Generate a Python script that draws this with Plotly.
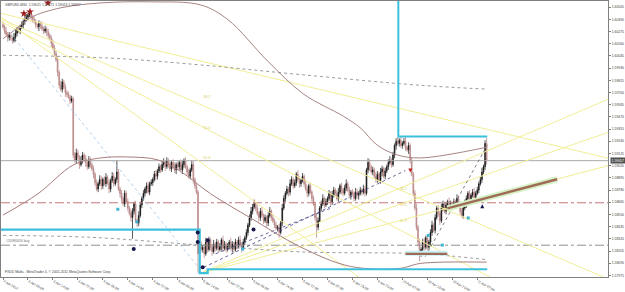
import plotly.graph_objects as go

# ---------------- data ----------------
tick_bars = [0, 16, 32, 48, 64, 80, 96, 112, 128, 144, 160, 176, 192, 208, 224, 240, 256, 272, 288, 304]
tick_text = ["2 Apr 2012", "3 Apr 06:00", "3 Apr 14:00", "3 Apr 22:00", "4 Apr 06:00", "4 Apr 14:00",
             "4 Apr 22:00", "5 Apr 06:00", "5 Apr 14:00", "5 Apr 22:00", "6 Apr 06:00", "6 Apr 14:00",
             "6 Apr 22:00", "9 Apr 07:00", "9 Apr 15:00", "9 Apr 23:00", "10 Apr 07:00", "10 Apr 15:00",
             "10 Apr 23:00", "11 Apr 07:00"]
price_ticks = [1.57975, 1.58090, 1.58205, 1.58320, 1.58435, 1.58550, 1.58665, 1.58780, 1.58895, 1.59010,
               1.59125, 1.59240, 1.59355, 1.59470, 1.59585, 1.59700, 1.59815, 1.59930, 1.60045, 1.60160,
               1.60275, 1.60390, 1.60505]

first_open = 1.6034
closes = [
    1.6032, 1.6028, 1.6025, 1.6022, 1.6024, 1.6021, 1.6019, 1.6022, 1.6026, 1.6030, 1.6028, 1.6032, 1.6034, 1.6037, 1.6039, 1.6041,
    1.6043, 1.6044, 1.6041, 1.6039, 1.6037, 1.6034, 1.6032, 1.6035, 1.6033, 1.6030, 1.6028, 1.6030, 1.6027, 1.6024, 1.6021, 1.6016,
    1.6012, 1.6007, 1.6001, 1.5989, 1.5977, 1.5973, 1.5980, 1.5975, 1.5970, 1.5968, 1.5966, 1.5962, 1.5964, 1.5911, 1.5906, 1.5913,
    1.5909, 1.5902, 1.5906, 1.5911, 1.5908, 1.5904, 1.5900, 1.5906, 1.5902, 1.5898, 1.5893, 1.5885, 1.5879, 1.5884, 1.5888, 1.5882,
    1.5888, 1.5884, 1.5890, 1.5885, 1.5879, 1.5887, 1.5891, 1.5884, 1.5888, 1.5895, 1.5879, 1.5875, 1.5870, 1.5865, 1.5875, 1.5867,
    1.5861, 1.5856, 1.5852, 1.5858, 1.5865, 1.5849, 1.5847, 1.5854, 1.5864, 1.5870, 1.5875, 1.5879, 1.5882, 1.5876, 1.5884, 1.5885,
    1.5888, 1.5893, 1.5891, 1.5896, 1.5900, 1.5897, 1.5902, 1.5904, 1.5900, 1.5906, 1.5902, 1.5898, 1.5904, 1.5900, 1.5897, 1.5902,
    1.5900, 1.5904, 1.5897, 1.5902, 1.5906, 1.5900, 1.5895, 1.5891, 1.5897, 1.5902, 1.5888, 1.5882, 1.5876, 1.5818, 1.5827, 1.5822,
    1.5824, 1.5818, 1.5829, 1.5822, 1.5831, 1.5824, 1.5820, 1.5827, 1.5823, 1.5829, 1.5822, 1.5825, 1.5831, 1.5823, 1.5827, 1.5822,
    1.5825, 1.5829, 1.5823, 1.5827, 1.5822, 1.5829, 1.5825, 1.5831, 1.5827, 1.5823, 1.5829, 1.5833, 1.5838, 1.5845, 1.5852, 1.5858,
    1.5862, 1.5865, 1.5861, 1.5856, 1.5852, 1.5858, 1.5854, 1.5849, 1.5852, 1.5847, 1.5854, 1.5858, 1.5852, 1.5849, 1.5845, 1.5842,
    1.5843, 1.5838, 1.5847, 1.5861, 1.5870, 1.5875, 1.5879, 1.5876, 1.5884, 1.5888, 1.5882, 1.5885, 1.5893, 1.5888, 1.5884, 1.5887,
    1.5891, 1.5884, 1.5879, 1.5875, 1.5882, 1.5876, 1.5870, 1.5865, 1.5852, 1.5843, 1.5849, 1.5861, 1.5865, 1.5870, 1.5864, 1.5867,
    1.5870, 1.5875, 1.5867, 1.5873, 1.5878, 1.5875, 1.5870, 1.5876, 1.5882, 1.5878, 1.5875, 1.5880, 1.5884, 1.5878, 1.5873, 1.5876,
    1.5875, 1.5870, 1.5876, 1.5873, 1.5875, 1.5878, 1.5876, 1.5879, 1.5875, 1.5897, 1.5904, 1.5900, 1.5895, 1.5897, 1.5891, 1.5888,
    1.5893, 1.5887, 1.5895, 1.5898, 1.5891, 1.5896, 1.5900, 1.5904, 1.5906, 1.5902, 1.5911, 1.5920, 1.5924, 1.5922, 1.5925, 1.5920,
    1.5922, 1.5924, 1.5918, 1.5916, 1.5920, 1.5906, 1.5893, 1.5875, 1.5861, 1.5843, 1.5829, 1.5818, 1.5822, 1.5829, 1.5824, 1.5833,
    1.5824, 1.5829, 1.5838, 1.5845, 1.5840, 1.5852, 1.5861, 1.5856, 1.5849, 1.5861, 1.5865, 1.5858, 1.5864, 1.5867, 1.5861, 1.5865,
    1.5862, 1.5867, 1.5864, 1.5870, 1.5865, 1.5858, 1.5854, 1.5861, 1.5865, 1.5870, 1.5875, 1.5867, 1.5873, 1.5876, 1.5871, 1.5875,
    1.5878, 1.5884, 1.5888, 1.5895, 1.5900, 1.5922, 1.5906,
]
upper_wick_pips = [
    3, 2, 4, 2, 3, 1, 2, 4, 3, 2, 3, 2, 3, 2, 4, 3,
    2, 4, 3, 2, 3, 2, 1, 3, 2, 4, 2, 3, 2, 3, 2, 3,
    4, 3, 2, 3, 2, 4, 3, 2, 3, 2, 3, 2, 3, 2, 3, 4,
    3, 2, 4, 3, 2, 3, 2, 4, 3, 2, 3, 2, 3, 2, 4, 3,
    2, 3, 4, 2, 3, 2, 4, 3, 2, 11, 3, 2, 3, 2, 3, 2,
    3, 2, 4, 3, 2, 3, 2, 4, 3, 2, 3, 2, 3, 4, 2, 3,
    2, 3, 4, 2, 3, 2, 3, 4, 2, 3, 2, 3, 2, 3, 4, 2,
    3, 2, 3, 4, 2, 3, 2, 3, 2, 4, 3, 2, 3, 2, 4, 3,
    2, 3, 4, 2, 3, 2, 3, 4, 2, 3, 2, 3, 2, 4, 3, 2,
    3, 2, 4, 3, 2, 3, 2, 3, 4, 2, 3, 2, 3, 2, 3, 4,
    3, 4, 2, 3, 2, 3, 4, 2, 3, 2, 3, 4, 2, 3, 2, 3,
    2, 3, 2, 4, 3, 2, 3, 2, 4, 3, 2, 3, 2, 4, 3, 2,
    3, 2, 4, 3, 2, 3, 2, 3, 2, 4, 3, 2, 3, 4, 2, 3,
    2, 3, 2, 4, 3, 2, 3, 4, 2, 3, 2, 3, 4, 2, 3, 2,
    3, 2, 4, 3, 2, 3, 2, 4, 3, 2, 4, 3, 2, 3, 2, 4,
    3, 2, 4, 3, 2, 3, 2, 3, 4, 2, 3, 2, 3, 4, 2, 3,
    2, 3, 4, 2, 3, 2, 3, 2, 3, 4, 2, 3, 2, 3, 4, 2,
    3, 2, 3, 4, 2, 3, 2, 3, 2, 4, 3, 2, 3, 2, 4, 3,
    2, 3, 2, 4, 3, 2, 3, 2, 4, 3, 2, 3, 2, 3, 4, 2,
    3, 2, 3, 4, 2, 3, 5,
]
lower_wick_pips = [
    2, 3, 2, 4, 3, 2, 3, 2, 4, 3, 2, 3, 2, 4, 3, 2,
    3, 2, 4, 3, 2, 3, 2, 4, 3, 2, 3, 2, 4, 3, 2, 3,
    2, 3, 2, 4, 3, 2, 3, 2, 4, 3, 2, 3, 2, 3, 2, 3,
    3, 4, 2, 3, 2, 4, 3, 2, 3, 2, 4, 3, 2, 3, 2, 4,
    3, 2, 3, 2, 4, 3, 2, 3, 2, 3, 2, 4, 3, 2, 3, 2,
    3, 2, 4, 20, 3, 2, 4, 3, 2, 3, 2, 3, 4, 2, 3, 2,
    3, 2, 4, 3, 2, 3, 2, 3, 4, 2, 3, 2, 3, 2, 3, 4,
    2, 3, 2, 4, 3, 2, 3, 2, 3, 2, 4, 3, 2, 18, 3, 2,
    3, 4, 2, 3, 2, 3, 4, 2, 3, 2, 3, 2, 4, 3, 2, 3,
    2, 3, 2, 4, 3, 2, 3, 2, 3, 4, 2, 3, 2, 3, 2, 3,
    3, 2, 3, 2, 4, 3, 2, 3, 2, 4, 3, 2, 3, 2, 3, 2,
    3, 5, 2, 3, 2, 3, 2, 4, 3, 2, 3, 2, 3, 2, 4, 3,
    2, 3, 2, 4, 3, 2, 3, 2, 3, 10, 3, 2, 3, 2, 3, 2,
    3, 2, 4, 3, 2, 3, 2, 3, 2, 4, 3, 2, 3, 2, 3, 4,
    2, 3, 2, 3, 4, 2, 3, 2, 3, 2, 3, 4, 2, 3, 2, 3,
    3, 2, 3, 4, 2, 3, 2, 3, 2, 3, 2, 3, 4, 2, 3, 2,
    3, 2, 3, 2, 4, 3, 2, 3, 2, 3, 4, 7, 3, 2, 3, 2,
    3, 2, 4, 3, 2, 3, 2, 3, 4, 2, 3, 2, 3, 2, 3, 2,
    3, 2, 4, 3, 2, 3, 2, 3, 2, 4, 3, 2, 3, 2, 3, 2,
    2, 3, 2, 3, 2, 3, 4,
]
bid_price = 1.59057
level_red = 1.5866
level_gray = 1.5826

# indicator curves (bar index, price)
ma_a_bars = [0, 8.3, 17.9, 37.1, 62.7, 94.7, 126.7, 144, 169.6, 192.6, 218.2, 229.1, 240, 252.8, 267.5, 310]
ma_a_vals = [1.60207, 1.60298, 1.60408, 1.60499, 1.60545, 1.60555, 1.60526, 1.60389, 1.59997, 1.59686,
             1.59476, 1.59366, 1.59202, 1.59111, 1.59083, 1.59184]
ma_b_bars = [0, 22.4, 45.4, 62.7, 80, 99.2, 113.9, 133.1, 158.7, 190.7, 222.7, 254.7, 267.5, 310]
ma_b_vals = [1.58544, 1.58745, 1.59019, 1.59083, 1.59092, 1.59065, 1.58955, 1.58745, 1.58517, 1.58243,
             1.58060, 1.58042, 1.58088, 1.58100]
ma_c_bars = [0, 69.1, 126.7, 190.7, 267.5, 310]
ma_c_vals = [1.60051, 1.60024, 1.59960, 1.59869, 1.59768, 1.59732]
ma_d_bars = [0, 56.3, 126.7, 190.7, 267.5, 310]
ma_d_vals = [1.58352, 1.58334, 1.58261, 1.58197, 1.58179, 1.58124]

# drawn objects
cyan_low_bars = [-1.3, 126.1, 126.1, 131.2, 131.2, 310.4]
cyan_low_vals = [1.58407, 1.58407, 1.57996, 1.57996, 1.58033, 1.58033]
cyan_high_bars = [253.4, 253.4, 310.4]
cyan_high_vals = [1.6060, 1.59284, 1.59284]

yellow_down = [  # (bar1, price1, bar2, price2)
    (1.9, 1.60435, 126.7, 1.59997),
    (126.7, 1.59586, 267.5, 1.58699),
    (1.9, 1.60344, 126.7, 1.59385),
    (17.9, 1.60207, 69.1, 1.59659),
]
fan_p1 = (126.7, 1.57996)
fan_p2 = (253.4, 1.59284)
fan_levels = [0.382, 0.5, 0.618]
fan_labels = ["38.2", "50.0", "61.8"]
down_label_bars = [128.6, 128.6, 128.6]
down_label_vals = [1.59660, 1.59360, 1.59084]

dotted_lines = [  # (bar1, price1, bar2, price2, color)
    (5.1, 1.60252, 124.8, 1.58060, '#9cc4e8'),
    (128.7, 1.58051, 257.9, 1.58964, '#40408a'),
    (136.3, 1.58179, 209.9, 1.58608, '#40408a'),
    (270.7, 1.58152, 310.4, 1.59202, '#606060'),
]
trend_thick = (284.8, 1.58608, 355.2, 1.58882)
short_bar = (258.0, 1.58179, 284.8, 1.58179)

red_star_bars = [13.4, 17.3, 28.8]
red_star_vals = [1.60444, 1.60462, 1.60545]
navy_dot_bars = [83.8, 128, 124.8, 124.8, 131.2, 160.6]
navy_dot_vals = [1.58225, 1.58051, 1.58380, 1.58289, 1.58307, 1.58407]
navy_arrow = (307.2, 1.58645)
red_arrow = (261.1, 1.58946)
cyan_sq_bars = [73.6, 85.8, 153.6, 298.2, 281.6, 272.6]
cyan_sq_vals = [1.58599, 1.58480, 1.58225, 1.58517, 1.58261, 1.58352]

x_min, x_max = -1.28, 387.8
y_min, y_max = 1.57960, 1.60563

# ---------------- build ----------------
bars = list(range(len(closes)))
opens = [first_open] + closes[:-1]
highs = [max(o, c) + u * 0.0001 for o, c, u in zip(opens, closes, upper_wick_pips)]
lows = [min(o, c) - l * 0.0001 for o, c, l in zip(opens, closes, lower_wick_pips)]

fig = go.Figure()

def line(xs, ys, color, width=1, dash=None, shape='linear', opacity=1.0):
    fig.add_trace(go.Scatter(x=xs, y=ys, mode='lines', line=dict(color=color, width=width, dash=dash, shape=shape),
                             opacity=opacity, hoverinfo='skip', showlegend=False))

def ray(b1, p1, b2, p2, start_at_first=False):
    s = (p2 - p1) / (b2 - b1)
    xa = b1 if start_at_first else x_min
    return [xa, x_max], [p1 + s * (xa - b1), p1 + s * (x_max - b1)]

# horizontal levels
line([x_min, x_max], [level_red, level_red], '#c47878', 1, 'dashdot')
line([x_min, x_max], [level_gray, level_gray], '#909090', 1, 'dashdot')
line([x_min, x_max], [bid_price, bid_price], '#a8a8a8', 1)

# yellow fan lines
for b1, p1, b2, p2 in yellow_down:
    xs, ys = ray(b1, p1, b2, p2)
    line(xs, ys, '#f2ee98', 1)
for lv in fan_levels:
    p_lv = fan_p2[1] - (fan_p2[1] - fan_p1[1]) * lv
    xs, ys = ray(fan_p1[0], fan_p1[1], fan_p2[0], p_lv, start_at_first=True)
    line(xs, ys, '#f2ee98', 1)

# dotted lines
for b1, p1, b2, p2, col in dotted_lines:
    line([b1, b2], [p1, p2], col, 0.8, 'dot')

# indicator curves
line(ma_a_bars, ma_a_vals, '#a88484', 1, shape='spline')
line(ma_b_bars, ma_b_vals, '#a87c7c', 1, shape='spline')
line(ma_c_bars, ma_c_vals, '#707070', 0.7, 'dot', shape='spline')
line(ma_d_bars, ma_d_vals, '#707070', 0.7, 'dot', shape='spline')

# cyan boxes
line(cyan_low_bars, cyan_low_vals, '#3cc0dc', 2.2)
line(cyan_high_bars, cyan_high_vals, '#3cc0dc', 2)

# candles
fig.add_trace(go.Candlestick(
    x=bars, open=opens, high=highs, low=lows, close=closes,
    increasing=dict(line=dict(color='#101010', width=0.7), fillcolor='#101010'),
    decreasing=dict(line=dict(color='#b07a7a', width=0.7), fillcolor='#dcb0b0'),
    whiskerwidth=0, hoverinfo='skip', showlegend=False))

# thick trend lines with glow
b1, p1, b2, p2 = trend_thick
line([b1, b2], [p1, p2], '#d4f2c4', 6)
line([b1, b2], [p1, p2], '#a06a58', 2.4)
b1, p1, b2, p2 = short_bar
line([b1, b2], [p1 + 0.00004, p2 + 0.00004], '#c8f0f0', 5)
line([b1, b2], [p1, p2], '#a06a58', 2.2)

# markers
fig.add_trace(go.Scatter(x=red_star_bars, y=red_star_vals, mode='markers',
                         marker=dict(symbol='star', size=6, color='#9c1c1c'), hoverinfo='skip', showlegend=False))
fig.add_trace(go.Scatter(x=navy_dot_bars, y=navy_dot_vals, mode='markers',
                         marker=dict(symbol='circle', size=4, color='#15154a'), hoverinfo='skip', showlegend=False))
fig.add_trace(go.Scatter(x=[navy_arrow[0]], y=[navy_arrow[1]], mode='markers',
                         marker=dict(symbol='arrow-up', size=4, color='#15154a'), hoverinfo='skip', showlegend=False))
fig.add_trace(go.Scatter(x=[red_arrow[0]], y=[red_arrow[1]], mode='markers',
                         marker=dict(symbol='arrow-down', size=4, color='#c02020'), hoverinfo='skip', showlegend=False))
fig.add_trace(go.Scatter(x=cyan_sq_bars, y=cyan_sq_vals, mode='markers',
                         marker=dict(symbol='square', size=3, color='#40b4d4'), hoverinfo='skip', showlegend=False))

# fan labels
fan_up_vals = [fan_p2[1] - (fan_p2[1] - fan_p1[1]) * lv for lv in fan_levels]
fig.add_trace(go.Scatter(x=down_label_bars + [fan_p2[0] + 1] * 3, y=down_label_vals + fan_up_vals,
                         mode='text', text=fan_labels + fan_labels, textposition='middle right',
                         textfont=dict(size=3.5, color='#d8d060', family='Liberation Sans'),
                         hoverinfo='skip', showlegend=False))

small = dict(family='Liberation Sans', size=3.4, color='#404040')
annotations = [
    dict(x=0.004, y=0.985, xref='paper', yref='paper', xanchor='left', yanchor='middle', showarrow=False,
         text='GBPUSD,M30  1.59021 1.59271 1.59024 1.59057', font=small),
    dict(x=0.004, y=0.018, xref='paper', yref='paper', xanchor='left', yanchor='middle', showarrow=False,
         text='FXDD Malta - MetaTrader 4, \u00a9 2001-2011 MetaQuotes Software Corp.', font=small),
    dict(x=x_min, y=level_gray, xref='x', yref='y', xanchor='left', yanchor='bottom', showarrow=False,
         text='#20980050 buy', font=dict(family='Liberation Sans', size=3.4, color='#707070'), xshift=3),
    dict(x=1.0, y=bid_price, xref='paper', yref='y', xanchor='left', yanchor='middle', showarrow=False,
         text='1.59057', font=dict(family='Liberation Sans', size=3.4, color='#ffffff'),
         bgcolor='#505050', borderpad=0.6, xshift=2),
]

fig.update_layout(
    width=625, height=292, margin=dict(l=0, r=17, t=1, b=6),
    paper_bgcolor='white', plot_bgcolor='white', showlegend=False,
    annotations=annotations,
    xaxis=dict(range=[x_min, x_max], tickvals=tick_bars, ticktext=tick_text, ticks='outside', ticklen=2,
               tickcolor='#808080', showline=True, linecolor='#808080', linewidth=1, mirror=True,
               showgrid=False, zeroline=False, tickfont=dict(family='Liberation Sans', size=3.4, color='#404040'),
               ticklabelposition='outside right', rangeslider=dict(visible=False), fixedrange=True),
    yaxis=dict(range=[y_min, y_max], side='right', tickvals=price_ticks,
               ticktext=['%.5f' % v for v in price_ticks], ticks='outside', ticklen=2, tickcolor='#808080',
               showline=True, linecolor='#808080', linewidth=1, mirror=True, showgrid=False, zeroline=False,
               tickfont=dict(family='Liberation Sans', size=3.4, color='#404040'), fixedrange=True),
)

fig.write_html("out.html")
